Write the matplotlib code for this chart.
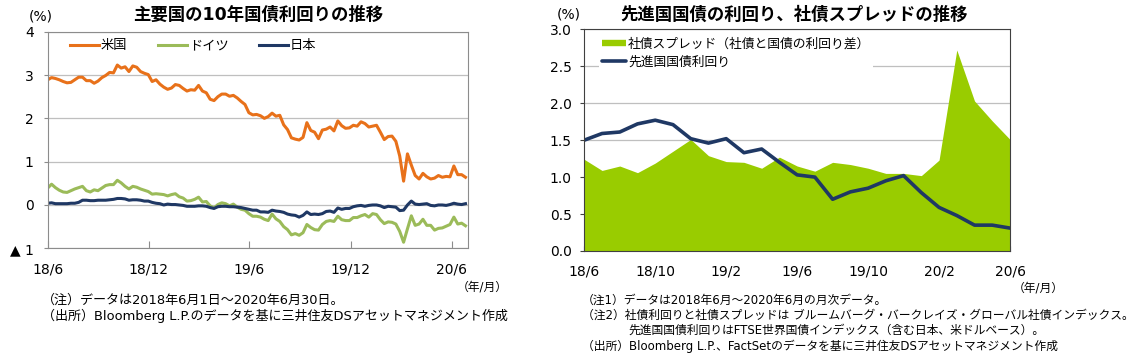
import pandas as pd
import numpy as np
import matplotlib
matplotlib.use('Agg')
import matplotlib.pyplot as plt
from matplotlib.lines import Line2D

plt.rcParams['font.family'] = ['DejaVu Sans', 'Noto Sans CJK JP']

# left chart: 10y yields, weekly (Fridays) from 2018/6/1
dates = pd.date_range('2018-06-01', '2020-06-26', freq='W-FRI')

us = [2.89, 2.94, 2.92, 2.89, 2.85,
      2.82, 2.83, 2.89, 2.95,
      2.95, 2.87, 2.87, 2.81, 2.86,
      2.94, 2.99, 3.06, 3.05,
      3.23, 3.16, 3.19, 3.08,
      3.21, 3.18, 3.08, 3.04, 3.01,
      2.85, 2.89, 2.79, 2.72,
      2.67, 2.70, 2.78, 2.76,
      2.69, 2.63, 2.66, 2.65,
      2.76, 2.63, 2.59, 2.44, 2.41,
      2.50, 2.56, 2.56, 2.51,
      2.53, 2.47, 2.39, 2.32, 2.13,
      2.08, 2.09, 2.06, 2.00,
      2.04, 2.12, 2.05, 2.07,
      1.85, 1.74, 1.55, 1.52, 1.50,
      1.56, 1.90, 1.72, 1.68,
      1.53, 1.73, 1.75, 1.80,
      1.71, 1.94, 1.83, 1.77, 1.78,
      1.84, 1.82, 1.92, 1.88,
      1.80, 1.82, 1.84, 1.68, 1.51,
      1.58, 1.59, 1.47, 1.13,
      0.55, 1.18, 0.92, 0.68,
      0.60, 0.73, 0.65, 0.60,
      0.62, 0.68, 0.64, 0.66, 0.65,
      0.90, 0.70, 0.70, 0.64]

germany = [0.39, 0.48, 0.40, 0.34, 0.30,
           0.29, 0.33, 0.37, 0.40,
           0.43, 0.33, 0.30, 0.35, 0.33,
           0.39, 0.45, 0.47, 0.47,
           0.57, 0.51, 0.43, 0.37,
           0.43, 0.41, 0.37, 0.34, 0.31,
           0.25, 0.26, 0.25, 0.24,
           0.21, 0.24, 0.26, 0.19,
           0.16, 0.09, 0.10, 0.13,
           0.18, 0.07, 0.08, -0.02, -0.07,
           0.01, 0.05, 0.03, -0.02,
           0.02, -0.05, -0.10, -0.12, -0.20,
           -0.26, -0.26, -0.28, -0.33,
           -0.36, -0.21, -0.32, -0.38,
           -0.50, -0.57, -0.69, -0.66, -0.70,
           -0.64, -0.45, -0.52, -0.57,
           -0.58, -0.45, -0.38, -0.36,
           -0.38, -0.26, -0.34, -0.36, -0.36,
           -0.29, -0.29, -0.25, -0.22,
           -0.28, -0.20, -0.22, -0.34, -0.43,
           -0.39, -0.40, -0.44, -0.61,
           -0.86, -0.55, -0.25, -0.47,
           -0.44, -0.33, -0.47, -0.47,
           -0.58, -0.54, -0.53, -0.49, -0.45,
           -0.28, -0.44, -0.42, -0.48]

japan = [0.04, 0.05, 0.03, 0.03, 0.03,
         0.03, 0.04, 0.04, 0.06,
         0.11, 0.11, 0.10, 0.10, 0.11,
         0.11, 0.11, 0.12, 0.13,
         0.15, 0.15, 0.14, 0.11,
         0.12, 0.12, 0.11, 0.09, 0.09,
         0.06, 0.04, 0.03, 0.00,
         0.02, 0.01, 0.01, 0.00,
         -0.01, -0.03, -0.03, -0.03,
         -0.02, -0.02, -0.03, -0.06, -0.08,
         -0.04, -0.03, -0.03, -0.04,
         -0.04, -0.05, -0.06, -0.08, -0.10,
         -0.12, -0.12, -0.16, -0.16,
         -0.17, -0.12, -0.14, -0.15,
         -0.17, -0.21, -0.23, -0.24, -0.28,
         -0.24, -0.16, -0.22, -0.21,
         -0.22, -0.20, -0.15, -0.14,
         -0.17, -0.07, -0.10, -0.08, -0.08,
         -0.04, -0.02, -0.01, -0.03,
         -0.01, 0.00, 0.00, -0.02, -0.06,
         -0.03, -0.04, -0.05, -0.13,
         -0.12, 0.00, 0.09, 0.02,
         0.01, 0.02, 0.03, -0.01,
         -0.02, 0.00, 0.00, -0.01, 0.01,
         0.04, 0.02, 0.01, 0.03]

left_xticks = ['2018-06-01', '2018-12-01', '2019-06-01', '2019-12-01', '2020-06-01']
left_xlabels = ['18/6', '18/12', '19/6', '19/12', '20/6']
left_yticks = [-1, 0, 1, 2, 3, 4]
left_ylabels = ['▲ 1', '0', '1', '2', '3', '4']

# right chart: monthly 2018/6 - 2020/6
months = ['18/6', '18/7', '18/8', '18/9', '18/10', '18/11', '18/12',
          '19/1', '19/2', '19/3', '19/4', '19/5', '19/6', '19/7', '19/8',
          '19/9', '19/10', '19/11', '19/12', '20/1', '20/2', '20/3', '20/4',
          '20/5', '20/6']
spread = [1.24, 1.09, 1.15, 1.06, 1.19, 1.35, 1.51, 1.29, 1.21, 1.20, 1.12,
          1.27, 1.15, 1.08, 1.20, 1.17, 1.12, 1.05, 1.05, 1.02, 1.23, 2.72,
          2.03, 1.76, 1.51]
govt_yield = [1.50, 1.59, 1.61, 1.72, 1.77, 1.71, 1.52, 1.46, 1.52, 1.33, 1.38,
              1.20, 1.03, 1.00, 0.70, 0.80, 0.85, 0.95, 1.02, 0.79, 0.59, 0.48,
              0.35, 0.35, 0.31]

ORANGE = '#E8711A'
OLIVE = '#9BBB59'
NAVY = '#1F3864'
LIME = '#99CC00'

fig = plt.figure(figsize=(11.36, 3.61), dpi=100)

# ---- left
ax1 = fig.add_axes([47.7 / 1136, 1 - 248.3 / 361, 420 / 1136, 216.6 / 361])
ax1.plot(dates, us, color=ORANGE, lw=2.2, label='米国')
ax1.plot(dates, germany, color=OLIVE, lw=2.2, label='ドイツ')
ax1.plot(dates, japan, color=NAVY, lw=2.2, label='日本')
ax1.set_xlim(pd.Timestamp('2018-06-01'), pd.Timestamp('2020-06-30'))
ax1.set_ylim(-1, 4)
ax1.set_xticks(pd.to_datetime(left_xticks))
ax1.set_xticklabels(left_xlabels)
ax1.set_yticks(left_yticks)
ax1.set_yticklabels(left_ylabels)
ax1.grid(axis='y', color='#bfbfbf', lw=0.9)
ax1.set_axisbelow(True)
for s in ax1.spines.values():
    s.set_color('#8c8c8c')
ax1.tick_params(axis='x', direction='in', length=5, pad=10, labelsize=10, color='#8c8c8c')
ax1.tick_params(axis='y', direction='out', length=3, pad=7, labelsize=10, color='#8c8c8c')
ax1.legend(ncol=3, loc='upper left', bbox_to_anchor=(0.053, 0.965), frameon=False,
           fontsize=9.5, handlelength=2.2, handletextpad=0.15, columnspacing=2.3,
           borderpad=0, borderaxespad=0)

# ---- right
x = np.arange(len(months))
ax2 = fig.add_axes([584.3 / 1136, 1 - 251 / 361, 425.7 / 1136, 221.7 / 361])
ax2.fill_between(x, 0, spread, color=LIME, lw=0, zorder=2)
ax2.plot(x, govt_yield, color=NAVY, lw=2.6, zorder=3)
ax2.set_xlim(0, len(months) - 1)
ax2.set_ylim(0, 3)
ax2.set_xticks(x[::4])
ax2.set_xticklabels(months[::4])
ax2.set_yticks(np.arange(0, 3.01, 0.5))
ax2.set_yticklabels(['%.1f' % v for v in np.arange(0, 3.01, 0.5)])
ax2.grid(axis='y', color='#bfbfbf', lw=0.9)
ax2.set_axisbelow(True)
for s in ax2.spines.values():
    s.set_color('#404040')
    s.set_zorder(4)
ax2.tick_params(axis='x', direction='in', length=3.6, pad=10, labelsize=10, color='#404040')
ax2.tick_params(axis='y', direction='out', length=3, pad=6, labelsize=10, color='#404040')
handles = [Line2D([], [], color=LIME, lw=4.6, solid_capstyle='butt'),
           Line2D([], [], color=NAVY, lw=2.6, solid_capstyle='round')]
leg = ax2.legend(handles, ['社債スプレッド（社債と国債の利回り差）', '先進国国債利回り'],
                 loc='upper left', bbox_to_anchor=(0.035, 0.975), frameon=True,
                 facecolor='white', edgecolor='none', framealpha=1, fancybox=False,
                 fontsize=9.2, handlelength=1.9, handletextpad=0.15, labelspacing=0.4,
                 borderpad=0.2, borderaxespad=0)
leg.set_zorder(5)

# ---- texts
fig.text(257.7 / 1136, 1 - 15 / 361, '主要国の10年国債利回りの推移', ha='center', va='center',
         fontsize=12.5, fontweight='bold')
fig.text(794 / 1136, 1 - 15 / 361, '先進国国債の利回り、社債スプレッドの推移', ha='center', va='center',
         fontsize=12.5, fontweight='bold')
fig.text(40.5 / 1136, 1 - 16 / 361, '(%)', ha='center', va='center', fontsize=10)
fig.text(569 / 1136, 1 - 14 / 361, '(%)', ha='center', va='center', fontsize=10)
fig.text(482.5 / 1136, 1 - 287.3 / 361, '（年/月）', ha='center', va='center', fontsize=8.5)
fig.text(1038.5 / 1136, 1 - 288.3 / 361, '（年/月）', ha='center', va='center', fontsize=8.5)

fig.text(41.7 / 1136, 1 - 300 / 361, '（注）データは2018年6月1日～2020年6月30日。',
         ha='left', va='center', fontsize=9.4)
fig.text(41.7 / 1136, 1 - 315.5 / 361, '（出所）Bloomberg L.P.のデータを基に三井住友DSアセットマネジメント作成',
         ha='left', va='center', fontsize=9.4)

fig.text(581.7 / 1136, 1 - 300.5 / 361, '（注1）データは2018年6月～2020年6月の月次データ。',
         ha='left', va='center', fontsize=8.5)
fig.text(581.7 / 1136, 1 - 315 / 361,
         '（注2）社債利回りと社債スプレッドは ブルームバーグ・バークレイズ・グローバル社債インデックス。',
         ha='left', va='center', fontsize=8.5)
fig.text(628.3 / 1136, 1 - 330.5 / 361, '先進国国債利回りはFTSE世界国債インデックス（含む日本、米ドルベース）。',
         ha='left', va='center', fontsize=8.5)
fig.text(581.7 / 1136, 1 - 346 / 361, '（出所）Bloomberg L.P.、FactSetのデータを基に三井住友DSアセットマネジメント作成',
         ha='left', va='center', fontsize=8.5)

fig.savefig('out.png', dpi=100)
